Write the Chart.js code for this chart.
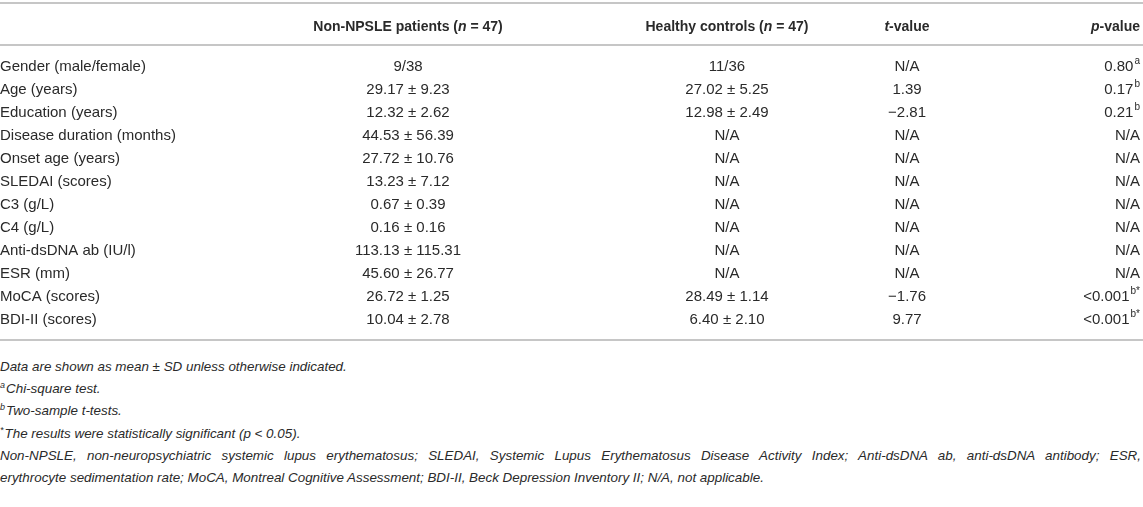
<!DOCTYPE html>
<html>
<head>
<meta charset="utf-8">
<script src="https://cdn.jsdelivr.net/npm/chart.js@4.4.0/dist/chart.umd.min.js"></script>
<style>
  html, body { margin: 0; padding: 0; background: #fff; }
  #wrap { position: relative; width: 1143px; height: 348px; }
  #notes {
    position: absolute; left: 0; top: 356px; width: 1141px;
    font-family: 'Liberation Sans', Arial, sans-serif; font-style: italic;
    font-size: 13.4px; line-height: 22.2px; color: #2a2a2a;
  }
  #notes sup { font-size: 9px; line-height: 0; vertical-align: 5px; margin-right: 1px; }
  #notes .j { text-align: justify; text-align-last: justify; }
</style>
</head>
<body>
<div id="wrap"><canvas id="table"></canvas></div>
<div id="notes">
  <div>Data are shown as mean ± SD unless otherwise indicated.</div>
  <div><sup>a</sup>Chi-square test.</div>
  <div><sup>b</sup>Two-sample t-tests.</div>
  <div><sup>*</sup>The results were statistically significant (p &lt; 0.05).</div>
  <div class="j">Non-NPSLE, non-neuropsychiatric systemic lupus erythematosus; SLEDAI, Systemic Lupus Erythematosus Disease Activity Index; Anti-dsDNA ab, anti-dsDNA antibody; ESR,</div>
  <div>erythrocyte sedimentation rate; MoCA, Montreal Cognitive Assessment; BDI-II, Beck Depression Inventory II; N/A, not applicable.</div>
</div>
<script>
const rowLabels = [
  'Gender (male/female)', 'Age (years)', 'Education (years)', 'Disease duration (months)',
  'Onset age (years)', 'SLEDAI (scores)', 'C3 (g/L)', 'C4 (g/L)',
  'Anti-dsDNA ab (IU/l)', 'ESR (mm)', 'MoCA (scores)', 'BDI-II (scores)'
];
const nonNpsle = [
  '9/38', '29.17 \u00b1 9.23', '12.32 \u00b1 2.62', '44.53 \u00b1 56.39',
  '27.72 \u00b1 10.76', '13.23 \u00b1 7.12', '0.67 \u00b1 0.39', '0.16 \u00b1 0.16',
  '113.13 \u00b1 115.31', '45.60 \u00b1 26.77', '26.72 \u00b1 1.25', '10.04 \u00b1 2.78'
];
const controls = [
  '11/36', '27.02 \u00b1 5.25', '12.98 \u00b1 2.49', 'N/A', 'N/A', 'N/A', 'N/A', 'N/A',
  'N/A', 'N/A', '28.49 \u00b1 1.14', '6.40 \u00b1 2.10'
];
const tValues = ['N/A', '1.39', '\u22122.81', 'N/A', 'N/A', 'N/A', 'N/A', 'N/A', 'N/A', 'N/A', '\u22121.76', '9.77'];
const pValues = ['0.80', '0.17', '0.21', 'N/A', 'N/A', 'N/A', 'N/A', 'N/A', 'N/A', 'N/A', '<0.001', '<0.001'];
const pMarks = ['a', 'b', 'b', '', '', '', '', '', '', '', 'b*', 'b*'];

// header pieces: [text, italic]
const headers = [
  [['Non-NPSLE patients (', false], ['n', true], [' = 47)', false]],
  [['Healthy controls (', false], ['n', true], [' = 47)', false]],
  [['t', true], ['-value', false]],
  [['p', true], ['-value', false]]
];

const FONT = "'Liberation Sans', Arial, sans-serif";
const SIZE = 15;
const HEAD_SIZE = 14;
const TEXT = '#2a2a2a';
const RULE = '#c6c6c6';
const colX = [408, 727, 907, 1140];
const colAlign = ['center', 'center', 'center', 'right'];

const columns = [nonNpsle, controls, tValues, pValues];

const datasets = columns.map((col, c) => ({
  label: 'col' + c,
  data: col.map((v, i) => ({ x: colX[c], y: rowLabels[i] })),
  pointRadius: 0,
  showLine: false
}));

function drawPieces(ctx, pieces, x, y, align, size, bold) {
  const fontOf = (it) => `${it ? 'italic ' : ''}${bold ? 'bold ' : ''}${size}px ${FONT}`;
  let total = 0;
  pieces.forEach(([t, it]) => { ctx.font = fontOf(it); total += ctx.measureText(t).width; });
  let cx = align === 'right' ? x - total : align === 'center' ? x - total / 2 : x;
  ctx.textAlign = 'left';
  pieces.forEach(([t, it]) => {
    ctx.font = fontOf(it);
    ctx.fillText(t, cx, y);
    cx += ctx.measureText(t).width;
  });
}

function drawWithSup(ctx, text, sup, x, y, align) {
  ctx.font = `${SIZE}px ${FONT}`;
  const w = ctx.measureText(text).width;
  ctx.font = `10px ${FONT}`;
  const sw = sup ? ctx.measureText(sup).width + 1 : 0;
  const total = w + sw;
  let left = align === 'right' ? x - total : align === 'center' ? x - total / 2 : x;
  ctx.textAlign = 'left';
  ctx.font = `${SIZE}px ${FONT}`;
  ctx.fillText(text, left, y);
  if (sup) {
    ctx.font = `10px ${FONT}`;
    ctx.fillText(sup, left + w + 1, y - 5);
  }
}

const tablePlugin = {
  id: 'tablePlugin',
  afterDatasetsDraw(chart) {
    const ctx = chart.ctx;
    const area = chart.chartArea;
    const yScale = chart.scales.y;
    ctx.save();
    // rules
    ctx.strokeStyle = RULE;
    ctx.lineWidth = 2;
    [3, area.top - 10, area.bottom + 9].forEach((ly) => {
      ctx.beginPath();
      ctx.moveTo(0, ly);
      ctx.lineTo(chart.width, ly);
      ctx.stroke();
    });
    ctx.fillStyle = TEXT;
    ctx.textBaseline = 'middle';
    // header
    headers.forEach((h, c) => {
      drawPieces(ctx, h, chart.scales.x.getPixelForValue(colX[c]), area.top - 28, colAlign[c], HEAD_SIZE, true);
    });
    // row labels
    rowLabels.forEach((r, i) => {
      ctx.font = `${SIZE}px ${FONT}`;
      ctx.textAlign = 'left';
      ctx.fillText(r, 0, yScale.getPixelForValue(i));
    });
    // cells
    chart.data.datasets.forEach((ds, c) => {
      const meta = chart.getDatasetMeta(c);
      meta.data.forEach((pt, i) => {
        const sup = c === 3 ? pMarks[i] : '';
        drawWithSup(ctx, columns[c][i], sup, pt.x, pt.y, colAlign[c]);
      });
    });
    ctx.restore();
  }
};

new Chart(document.getElementById('table'), {
  type: 'scatter',
  data: { datasets },
  options: {
    responsive: true,
    maintainAspectRatio: false,
    animation: false,
    layout: { padding: { top: 55, bottom: 17, left: 0, right: 0 } },
    plugins: { legend: { display: false }, tooltip: { enabled: false } },
    scales: {
      x: { type: 'linear', min: 0, max: 1143, display: false },
      y: { type: 'category', labels: rowLabels, offset: true, display: false }
    }
  },
  plugins: [tablePlugin]
});
</script>
</body>
</html>
